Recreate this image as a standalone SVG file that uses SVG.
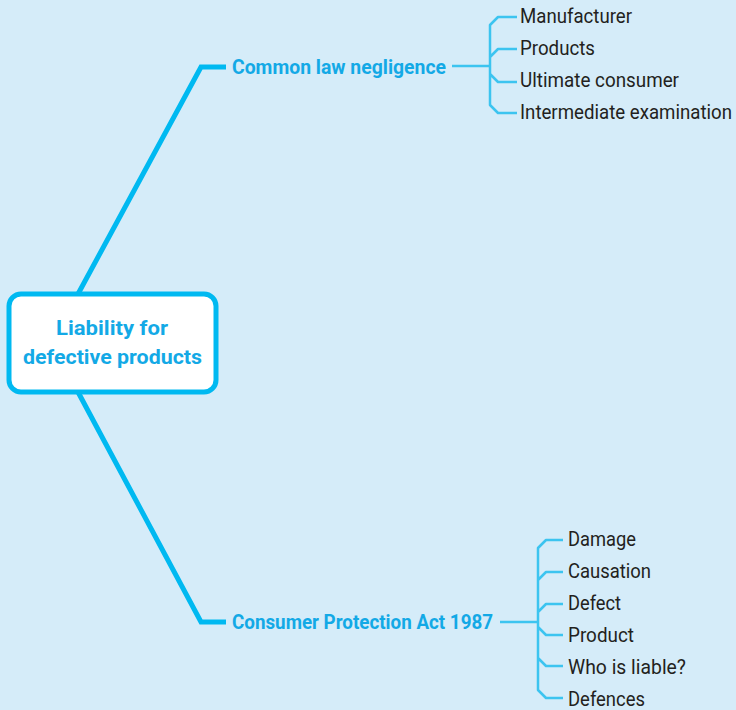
<svg xmlns="http://www.w3.org/2000/svg" width="736" height="710" viewBox="0 0 736 710">
<style>
.main{fill:none;stroke:#00b9f1;stroke-width:5;stroke-linecap:butt;stroke-linejoin:miter}
.thin{fill:none;stroke:#3cc4f0;stroke-width:2.5;stroke-linejoin:round}
.head{font-family:"Roboto","Liberation Sans",sans-serif;font-weight:bold;fill:#13a9e6;font-size:21px}
.leaf{font-family:"Roboto","Liberation Sans",sans-serif;fill:#231f20;font-size:21px}
</style>
<rect x="0" y="0" width="736" height="710" fill="#d5ecf9"/>
<g id="connectors">
<polyline class="main" points="78,294 201,67 226,67"/>
<polyline class="main" points="78,392 201,622 226,622"/>
<line class="thin" x1="452" y1="66" x2="490" y2="66"/>
<path class="thin" d="M517,17 H498 L490,25 V105 L498,113 H517 M517,49 H498 L490,57 M490,74 L498,82 H517"/>
<line class="thin" x1="500" y1="622" x2="538" y2="622"/>
<path class="thin" d="M563,540 H546 L538,548 V690 L546,698 H563 M563,572 H546 L538,580 M563,604 H546 L538,612 M538,627 L546,635 H563 M538,658 L546,666 H563"/>
</g>
<g id="root">
<rect x="9" y="294" width="207" height="98" rx="12" fill="#ffffff" stroke="#00b9f1" stroke-width="5"/>
<text class="head" x="56" y="335" font-size="23" textLength="112" lengthAdjust="spacingAndGlyphs">Liability for</text>
<text class="head" x="23" y="364" font-size="23" textLength="179" lengthAdjust="spacingAndGlyphs">defective products</text>
</g>
<g id="common-law">
<text class="head" x="232" y="74" textLength="214" lengthAdjust="spacingAndGlyphs">Common law negligence</text>
</g>
<g id="cpa">
<text class="head" x="232" y="629" textLength="261" lengthAdjust="spacingAndGlyphs">Consumer Protection Act 1987</text>
</g>
<g id="leaves-top">
<text class="leaf" x="520" y="23" textLength="112" lengthAdjust="spacingAndGlyphs">Manufacturer</text>
<text class="leaf" x="520" y="55" textLength="75" lengthAdjust="spacingAndGlyphs">Products</text>
<text class="leaf" x="520" y="87" textLength="159" lengthAdjust="spacingAndGlyphs">Ultimate consumer</text>
<text class="leaf" x="520" y="119" textLength="212" lengthAdjust="spacingAndGlyphs">Intermediate examination</text>
</g>
<g id="leaves-bottom">
<text class="leaf" x="568" y="546" textLength="68" lengthAdjust="spacingAndGlyphs">Damage</text>
<text class="leaf" x="568" y="578" textLength="83" lengthAdjust="spacingAndGlyphs">Causation</text>
<text class="leaf" x="568" y="610" textLength="53" lengthAdjust="spacingAndGlyphs">Defect</text>
<text class="leaf" x="568" y="642" textLength="66" lengthAdjust="spacingAndGlyphs">Product</text>
<text class="leaf" x="568" y="674" textLength="118" lengthAdjust="spacingAndGlyphs">Who is liable?</text>
<text class="leaf" x="568" y="706" textLength="77" lengthAdjust="spacingAndGlyphs">Defences</text>
</g>
</svg>
